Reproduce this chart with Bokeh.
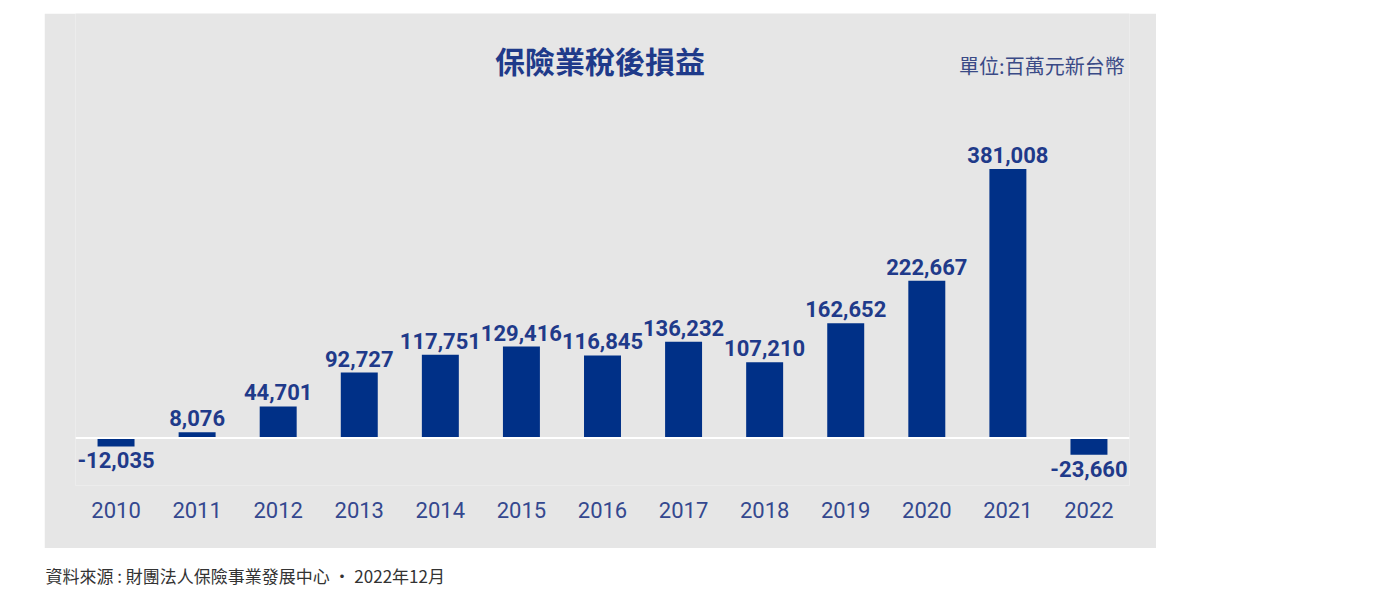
from bokeh.plotting import figure
from bokeh.models import ColumnDataSource, LabelSet, Label, Span, Range1d
from bokeh.layouts import column
from bokeh.core.properties import value
from bokeh.embed import file_html
from bokeh.resources import INLINE

years = ["2010", "2011", "2012", "2013", "2014", "2015", "2016",
         "2017", "2018", "2019", "2020", "2021", "2022"]
profits = [-12035, 8076, 44701, 92727, 117751, 129416, 116845,
           136232, 107210, 162652, 222667, 381008, -23660]
title_text = "保險業稅後損益"
unit_text = "單位:百萬元新台幣"
source_text = "資料來源 : 財團法人保險事業發展中心 · 2022年12月"

BAR = "#003087"
TXT = "#1f3a8a"
YEAR = "#34488f"
BG = "#e6e6e6"
NUM_FONT = "Roboto"
CJK = "Noto Sans CJK TC"

labels = [f"{v:,}" for v in profits]
pos = ColumnDataSource(dict(x=[y for y, v in zip(years, profits) if v >= 0],
                            y=[v for v in profits if v >= 0],
                            t=[l for l, v in zip(labels, profits) if v >= 0]))
neg = ColumnDataSource(dict(x=[y for y, v in zip(years, profits) if v < 0],
                            y=[v for v in profits if v < 0],
                            t=[l for l, v in zip(labels, profits) if v < 0]))

p = figure(x_range=years, y_range=Range1d(-67260, 601100),
           width=1112, height=535, output_backend="svg", toolbar_location=None,
           min_border_left=31, min_border_right=27, min_border_top=0, min_border_bottom=63)
p.background_fill_color = BG
p.border_fill_color = BG
p.outline_line_color = None
p.grid.visible = False
p.yaxis.visible = False

p.vbar(x=years, top=profits, bottom=0, width=0.456, color=BAR, line_color=None)
p.add_layout(Span(location=0, dimension="width", line_color="white", line_width=2))

p.add_layout(LabelSet(x="x", y="y", text="t", source=pos, text_align="center",
                      text_baseline="bottom", y_offset=6, text_font=value(NUM_FONT),
                      text_font_size=value("22px"), text_font_style=value("bold"),
                      text_color=value(TXT)))
p.add_layout(LabelSet(x="x", y="y", text="t", source=neg, text_align="center",
                      text_baseline="top", y_offset=-6, text_font=value(NUM_FONT),
                      text_font_size=value("22px"), text_font_style=value("bold"),
                      text_color=value(TXT)))

p.add_layout(Label(x=6.47, y=535950, text=title_text, text_align="center",
                   text_baseline="middle", text_font=CJK, text_font_size="30px",
                   text_font_style="bold", text_color=TXT))
p.add_layout(Label(x=12.94, y=527400, text=unit_text, text_align="right",
                   text_baseline="middle", text_font=CJK, text_font_size="20px",
                   text_color="#3a4a86"))

ax = p.xaxis[0]
ax.axis_line_color = None
ax.major_tick_line_color = None
ax.minor_tick_line_color = None
ax.major_label_standoff = 10
ax.major_label_text_font = NUM_FONT
ax.major_label_text_font_size = "22px"
ax.major_label_text_color = YEAR
p.margin = (13, 0, 0, 44)

src = figure(width=500, height=40, x_range=Range1d(0, 500), y_range=Range1d(0, 40),
             output_backend="svg", toolbar_location=None,
             min_border_left=0, min_border_right=0, min_border_top=0, min_border_bottom=0)
src.axis.visible = False
src.grid.visible = False
src.outline_line_color = None
src.add_layout(Label(x=1, y=13, text=source_text, text_align="left",
                     text_baseline="middle", text_font=CJK, text_font_size="17px",
                     text_color="#333333"))
src.margin = (0, 0, 0, 13)

layout = column(p, src)
open("out.html", "w").write(file_html(layout, INLINE))
